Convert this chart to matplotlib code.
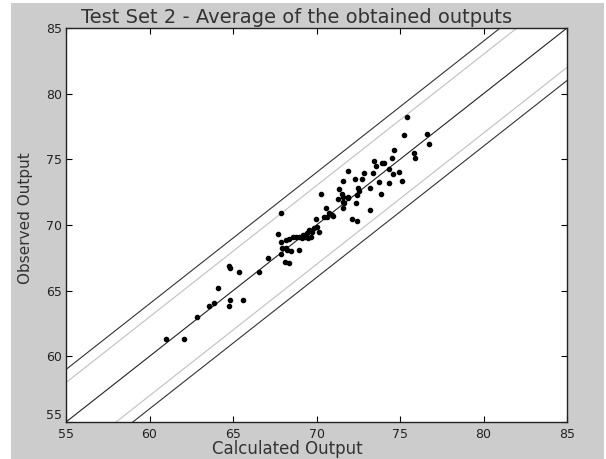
import numpy as np
import matplotlib.pyplot as plt
from matplotlib.patches import Rectangle

# calculated (x) vs observed (y) outputs
calc = [60.97, 62.07, 62.82, 63.56, 63.86, 64.12, 64.76, 64.82, 64.76, 64.80,
        65.38, 65.58, 66.56, 67.12, 67.71, 67.87, 67.86, 67.95, 67.86, 68.17,
        68.37, 68.17, 68.25, 68.47, 68.11, 68.37, 68.97, 68.61, 68.75, 68.97,
        69.11, 69.21, 69.41, 69.57, 69.71, 69.85, 70.01, 70.15, 69.67, 69.51,
        69.31, 69.97, 70.57, 70.75, 70.91, 70.61, 70.45, 70.27, 71.00, 71.37,
        71.57, 71.87, 71.67, 71.60, 72.37, 72.14, 72.40, 71.90, 71.60, 72.31,
        72.70, 72.86, 73.40, 73.46, 73.54, 73.90, 74.04, 74.34, 74.60, 74.96,
        75.10, 74.36, 73.76, 73.20, 73.86, 72.50, 72.56, 72.44, 71.51, 71.30,
        71.60, 71.90, 73.20, 74.64, 74.50, 75.40, 75.26, 76.64, 76.76, 75.84,
        75.90]
obs = [61.30, 61.30, 63.02, 63.83, 64.09, 65.23, 63.83, 64.27, 66.90, 66.75,
       66.45, 64.27, 66.40, 67.51, 69.30, 70.94, 68.73, 68.23, 67.79, 68.86,
       68.91, 68.23, 68.10, 68.02, 67.21, 67.13, 68.10, 69.07, 69.11, 69.07,
       68.99, 69.24, 69.42, 69.62, 69.49, 69.75, 69.82, 69.49, 69.11, 68.99,
       69.07, 70.44, 71.28, 70.90, 70.77, 70.64, 70.59, 72.34, 70.69, 72.72,
       72.16, 72.08, 71.66, 71.28, 71.66, 70.44, 70.33, 74.10, 73.38, 73.48,
       73.48, 73.94, 73.94, 74.90, 74.52, 74.75, 74.75, 74.25, 73.87, 74.02,
       73.38, 73.18, 73.30, 72.80, 72.36, 72.80, 72.62, 72.29, 72.36, 71.98,
       71.73, 72.11, 71.15, 75.72, 75.08, 78.25, 76.86, 76.93, 76.15, 75.45,
       75.10]

axis_range = [55, 85]
band_outer = 4   # black lines y = x +/- 4
band_inner = 3   # grey lines y = x +/- 3
ticks = [55, 60, 65, 70, 75, 80, 85]

fig = plt.figure(figsize=(6.06, 4.59), dpi=100, facecolor='white')
fig.patches.append(Rectangle((11 / 606, 0), 593 / 606, 1 - 3 / 459,
                             transform=fig.transFigure, facecolor='#cccccc',
                             edgecolor='none', zorder=-10))
ax = fig.add_axes([66 / 606, 1 - 422 / 459, 501 / 606, 394 / 459])
ax.set_facecolor('white')

xs = np.array(axis_range)
ax.plot(xs, xs, color='#222222', lw=0.8)
for sgn in (1, -1):
    ax.plot(xs, xs + sgn * band_outer, color='#333333', lw=0.8)
    ax.plot(xs, xs + sgn * band_inner, color='#c0c0c0', lw=0.8)

ax.plot(calc, obs, 'o', color='black', markersize=3, linestyle='none')

ax.set_xlim(axis_range)
ax.set_ylim(axis_range)
ax.set_xticks(ticks)
ax.set_yticks(ticks)
ax.tick_params(direction='in', length=4, width=0.8, top=True, right=True,
               labelsize=9, color='black', labelcolor='#222222')
ax.tick_params(axis='x', pad=4)
ax.tick_params(axis='y', pad=3)
# nudge the lowest y label up a touch so it clears the x "55"
ax.get_yticklabels()[0].set_verticalalignment('bottom')
for sp in ax.spines.values():
    sp.set_linewidth(1.0)
    sp.set_color('#222222')

# title sits a bit left of centre in the original
ax.text(0.461, 1.012, 'Test Set 2 - Average of the obtained outputs',
        transform=ax.transAxes, ha='center', va='baseline', fontsize=14,
        color='#333333')
ax.set_xlabel('Calculated Output', fontsize=12, color='#333333')
ax.xaxis.set_label_coords(0.441, -0.045)
ax.set_ylabel('Observed Output', fontsize=11, color='#333333')
ax.yaxis.set_label_coords(-0.066, 0.518)

fig.savefig('out.png', dpi=100, facecolor=fig.get_facecolor())
